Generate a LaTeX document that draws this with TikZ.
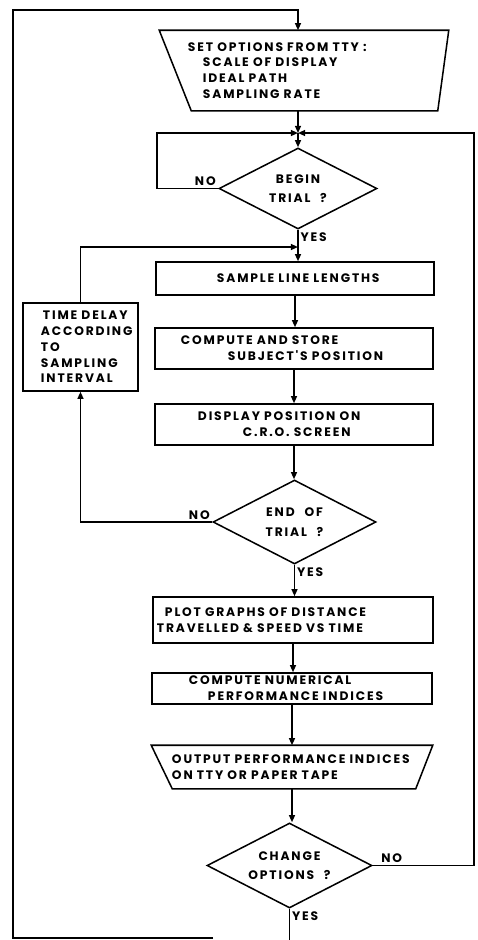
\documentclass[tikz,border=0pt]{standalone}
\usepackage{fontspec}
\newfontfamily\flowfont{Poppins}[LetterSpace=15,WordSpace={2.2,1,0.3}]
\usetikzlibrary{arrows.meta,calc,shapes.geometric,positioning}
\hyphenpenalty=10000
\exhyphenpenalty=10000

\begin{document}
\begin{tikzpicture}[x=0.03cm,y=-0.03cm,line width=1.3pt,
  font=\flowfont\bfseries\fontsize{10.5}{13.5}\selectfont,
  arr/.style={-{Triangle[length=6pt,width=5pt]}},
  procbox/.style={draw,rectangle,inner sep=0pt,align=left},
  iobox/.style={rectangle,inner sep=0pt,align=left},
  decision/.style={draw,diamond,aspect=2,inner sep=0pt,align=center},
  lbl/.style={inner sep=1.5pt}]
  \useasboundingbox (0,0) rectangle (478,940);
  % nodes
  \node[iobox,text width=8.64cm,minimum height=2.37cm] (opts) at (304,70.5)
    {\hspace*{0.84cm}SET OPTIONS FROM TTY :\\\hspace*{1.29cm}SCALE OF DISPLAY\\\hspace*{1.29cm}IDEAL PATH\\\hspace*{1.29cm}SAMPLING RATE};
  \node[decision,minimum width=4.74cm,minimum height=2.43cm] (dia1) at (298,188.5) {BEGIN\\[3pt]TRIAL ?};
  \node[procbox,text width=8.34cm,minimum height=0.99cm] (sample) at (295,278.5)
    {\hspace*{1.83cm}SAMPLE LINE LENGTHS};
  \node[procbox,text width=8.34cm,minimum height=1.23cm] (store) at (294,348.5)
    {\hspace*{0.78cm}COMPUTE AND STORE\\\hspace*{2.19cm}SUBJECT'S POSITION};
  \node[procbox,text width=8.34cm,minimum height=1.23cm] (disp) at (294,424.5)
    {\hspace*{1.29cm}DISPLAY POSITION ON\\\hspace*{2.64cm}C.R.O. SCREEN};
  \node[procbox,text width=3.45cm,minimum height=2.64cm] (delay) at (80.5,347)
    {\hspace*{0.6cm}TIME DELAY\\\hspace*{0.54cm}ACCORDING\\\hspace*{0.54cm}TO\\\hspace*{0.54cm}SAMPLING\\\hspace*{0.54cm}INTERVAL};
  \node[decision,minimum width=4.89cm,minimum height=2.52cm] (dia2) at (294.5,522) {END OF\\[3pt]TRIAL ?};
  \node[procbox,text width=8.4cm,minimum height=1.38cm] (plot) at (293,620)
    {\hspace*{0.36cm}PLOT GRAPHS OF DISTANCE\\\hspace*{0.12cm}TRAVELLED \& SPEED VS TIME};
  \node[procbox,text width=8.4cm,minimum height=0.93cm] (numer) at (292,688.5)
    {\hspace*{1.11cm}COMPUTE NUMERICAL\\\hspace*{1.68cm}PERFORMANCE INDICES};
  \node[iobox,text width=8.4cm,minimum height=1.26cm] (out) at (292,767)
    {\hspace*{0.6cm}OUTPUT PERFORMANCE INDICES\\\hspace*{0.6cm}ON TTY OR PAPER TAPE};
  \node[decision,minimum width=4.95cm,minimum height=2.55cm] (dia3) at (289.5,865.5) {CHANGE\\[3pt]OPTIONS ?};
  % trapezium outlines
  \draw (opts.north west) -- (opts.north east) -- ($(opts.south east)+(-11,0)$) -- ($(opts.south west)+(32,0)$) -- cycle;
  \draw (out.north west) -- (out.north east) -- ($(out.south east)+(-17,0)$) -- ($(out.south west)+(21,0)$) -- cycle;
  % junctions
  \coordinate (top) at (13,10);
  \coordinate (bot) at (13,938);
  \coordinate (botend) at (213,938);
  \coordinate (j1) at (298,133);
  \coordinate (j2) at (298,247);
  % connectors
  \draw[arr] (botend) -- (bot) -- (top) -| ($(opts.north)+(-6,0)$);
  \draw[arr] ($(opts.south)+(-6,0)$) -- (j1);
  \draw[arr] (j1) -- (dia1.north);
  \draw[arr] (dia1.west) -- ++(-61,0) |- (j1);
  \draw[arr] (dia3.east) -- ++(101,0) |- (j1);
  \draw (dia1.south) -- (j2);
  \draw[arr] (j2) -- (j2 |- sample.north);
  \draw[arr] (delay.north) |- (j2);
  \draw[arr] (sample.south) -- (sample.south |- store.north);
  \draw[arr] (store.south) -- (store.south |- disp.north);
  \draw[arr] (disp.south) -- (disp.south |- dia2.north);
  \draw[arr] (dia2.west) -| (delay.south);
  \draw[arr] (dia2.south) -- (dia2.south |- plot.north);
  \draw[arr] (plot.south) -- (plot.south |- numer.north);
  \draw[arr] (numer.south) -- (numer.south |- out.north);
  \draw[arr] (out.south) -- (out.south |- dia3.north);
  \draw (dia3.south) -- ++(0,32);
  % labels
  \node[lbl,anchor=south east] (no1) at (dia1.west) {NO};
  \node[lbl,anchor=north west] (yes1) at (dia1.south) {YES};
  \node[lbl,anchor=south east] (no2) at (dia2.west) {NO};
  \node[lbl,anchor=north west] (yes2) at (dia2.south) {YES};
  \node[lbl,anchor=south west] (no3) at ($(dia3.east)+(6,0)$) {NO};
  \node[lbl,anchor=north west] (yes3) at (dia3.south) {YES};
\end{tikzpicture}
\end{document}
